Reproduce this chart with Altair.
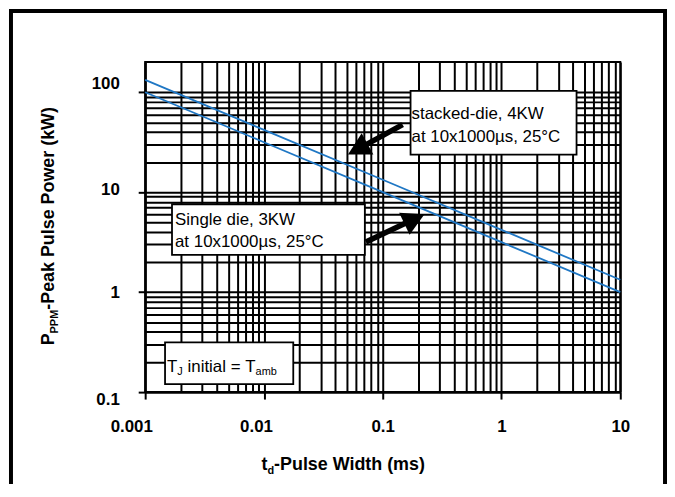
import altair as alt
import pandas as pd

# ---------------- data ----------------
x_ms = [0.001, 0.01, 0.1, 1, 10]                 # pulse width (ms)
stacked_kw = [133, 42, 13.3, 4.2, 1.33]           # stacked-die, 4KW
single_kw = [100, 31.6, 10, 3.16, 1.0]            # single die, 3KW
series_names = ["stacked-die, 4KW", "Single die, 3KW"]

x_tick_labels = [0.001, 0.01, 0.1, 1, 10]
y_tick_labels = [0.1, 1, 10, 100]
x_grid = [round(m * d, 6) for d in [0.001, 0.01, 0.1, 1] for m in range(1, 10)] + [10]
y_grid = [round(m * d, 6) for d in [0.1, 1, 10] for m in range(1, 10)] + [100]

# annotation arrows (tail, shaft end, tip) in data coordinates
arrow_stacked_t = [0.147, 0.0624]
arrow_stacked_p = [47.3, 27.1]
arrow_single_t = [0.0721, 0.1824]
arrow_single_p = [3.17, 5.36]
head_t = [0.0510, 0.2246]
head_p = [23.8, 6.02]
head_angle = [241.4, 64.6]

FONT = "Liberation Sans, Arial, sans-serif"
BLUE = "#1f77c4"

rows = []
for name, vals in zip(series_names, [stacked_kw, single_kw]):
    for t, p in zip(x_ms, vals):
        rows.append({"series": name, "t": t, "p": p})
df = pd.DataFrame(rows)

decade = "abs(log(datum.value)/LN10 - round(log(datum.value)/LN10)) < 1e-6"

xs = alt.Scale(type="log", domain=[0.001, 10], nice=False)
ys = alt.Scale(type="log", domain=[0.1, 200], nice=False)

xaxis = alt.Axis(
    values=x_grid, title=None, grid=True, gridColor="black", gridWidth=2, gridOpacity=1,
    domainColor="black", domainWidth=2,
    tickColor="black", tickWidth=2, tickSize=7,
    tickOpacity={"condition": {"test": decade, "value": 1}, "value": 0},
    labelExpr="indexof(" + str(x_tick_labels) + ", datum.value) >= 0 ? datum.label : ''",
    labelFont=FONT, labelFontSize=17, labelFontWeight="bold", labelColor="black",
    labelPadding=20, labelFlush=False, labelOverlap=False, labelBound=False,
    labelOffset={"condition": [{"test": "datum.value == 0.001", "value": -14},
                               {"test": "datum.value == 0.01", "value": -8}], "value": 0},
)
yaxis = alt.Axis(
    values=y_grid, title=None, grid=True, gridColor="black", gridWidth=2, gridOpacity=1,
    domainColor="black", domainWidth=2,
    tickColor="black", tickWidth=2, tickSize=7,
    tickOpacity={"condition": {"test": decade, "value": 1}, "value": 0},
    labelExpr="indexof(" + str(y_tick_labels) + ", datum.value) >= 0 ? datum.label : ''",
    labelFont=FONT, labelFontSize=17, labelFontWeight="bold", labelColor="black",
    labelPadding=19, labelFlush=False, labelOverlap=False, labelBound=False,
    labelOffset={"condition": [{"test": "datum.value == 100", "value": -9},
                               {"test": "datum.value == 10", "value": -3},
                               {"test": "datum.value == 0.1", "value": 7}], "value": 0},
)

X = alt.X("t:Q", scale=xs, axis=xaxis)
Y = alt.Y("p:Q", scale=ys, axis=yaxis)

lines = alt.Chart(df).mark_line(color=BLUE, strokeWidth=1.8).encode(x=X, y=Y, detail="series:N")

one = pd.DataFrame({"k": [0]})

def box(x0, x1, y0, y1):
    return alt.Chart(one).mark_rect(fill="white", stroke="black", strokeWidth=1.8).encode(
        x=alt.value(x0), x2=alt.value(x1), y=alt.value(y0), y2=alt.value(y1))

def txt(s, x, y, size=17, weight="normal", angle=0):
    return alt.Chart(one).mark_text(text=s, align="left", baseline="alphabetic", font=FONT,
                                    fontSize=size, fontWeight=weight, color="black",
                                    angle=angle).encode(x=alt.value(x), y=alt.value(y))

W_REG = {"T": 611, "J": 500, " ": 278, "i": 222, "n": 556, "t": 278, "a": 556, "l": 222,
         "=": 584, "m": 833, "b": 556}
W_BOLD = {"P": 667, "M": 833, "t": 333, "d": 611, "-": 333, "e": 556, "a": 556, "k": 556,
          " ": 278, "u": 611, "l": 278, "s": 556, "o": 611, "w": 778, "r": 389, "(": 333,
          "W": 944, ")": 333, "i": 278, "h": 611, "m": 889}

def tw(s, size, table):
    return sum(table[c] for c in s) * size / 1000.0

layers = [lines]

# arrows
arr = pd.DataFrame({"t": arrow_stacked_t + arrow_single_t,
                    "p": arrow_stacked_p + arrow_single_p,
                    "a": ["s", "s", "g", "g"]})
layers.append(alt.Chart(arr).mark_line(color="black", strokeWidth=5.5, strokeCap="butt")
              .encode(x=X, y=Y, detail="a:N"))
heads = pd.DataFrame({"t": head_t, "p": head_p, "ang": head_angle})
layers.append(alt.Chart(heads).mark_point(shape="M0,0 L-0.55,1 L0.55,1 Z", filled=True,
                                          color="black", opacity=1, size=2000, strokeWidth=0)
              .encode(x=X, y=Y, angle=alt.Angle("ang:Q", scale=None)))

# boxes
layers += [box(267, 434, 29, 93), box(27, 221, 143, 194), box(20, 149, 282, 324)]
layers += [txt("stacked-die, 4KW", 268, 57), txt("at 10x1000\u00b5s, 25\u00b0C", 268, 80),
           txt("Single die, 3KW", 30, 164), txt("at 10x1000\u00b5s, 25\u00b0C", 30, 186)]

# T_J initial = T_amb  (spaces handled as offsets, SVG trims them)
cx = 22
for s, size, dy in [("T", 17, 0), ("J", 11, 3), (" initial = ", 17, 0), ("T", 17, 0), ("amb", 11, 3)]:
    lead = len(s) - len(s.lstrip(" "))
    layers.append(txt(s.strip(" "), cx + lead * 278 * size / 1000.0, 311.7 + dy, size))
    cx += tw(s, size, W_REG)

# x title
cx = 117
for s, size, dy in [("t", 18, 0), ("d", 11, 4), ("-Pulse Width (ms)", 18, 0)]:
    layers.append(txt(s, cx, 410 + dy, size, "bold"))
    cx += tw(s, size, W_BOLD)

# y title (rotated)
ypieces = [("P", 18, 0), ("PPM", 11, 4), ("-Peak Pulse Power (kW)", 18, 0)]
total = sum(tw(s, size, W_BOLD) for s, size, _ in ypieces)
cy = 165 + total / 2
for s, size, dx in ypieces:
    layers.append(txt(s, -92 + dx, cy, size, "bold", angle=270))
    cy -= tw(s, size, W_BOLD)

# outer frame
layers.append(alt.Chart(one).mark_rect(fillOpacity=0, stroke="black", strokeWidth=4).encode(
    x=alt.value(-135), x2=alt.value(523), y=alt.value(-51.5), y2=alt.value(460)))

chart = alt.layer(*layers).properties(
    width=478, height=332,
    autosize=alt.AutoSizeParams(type="none"),
    padding={"left": 138, "top": 53, "right": 47, "bottom": 91},
    background="white",
).configure_view(stroke="black", strokeWidth=2)

chart.save("out.html", embed_options={"renderer": "svg", "actions": False})
